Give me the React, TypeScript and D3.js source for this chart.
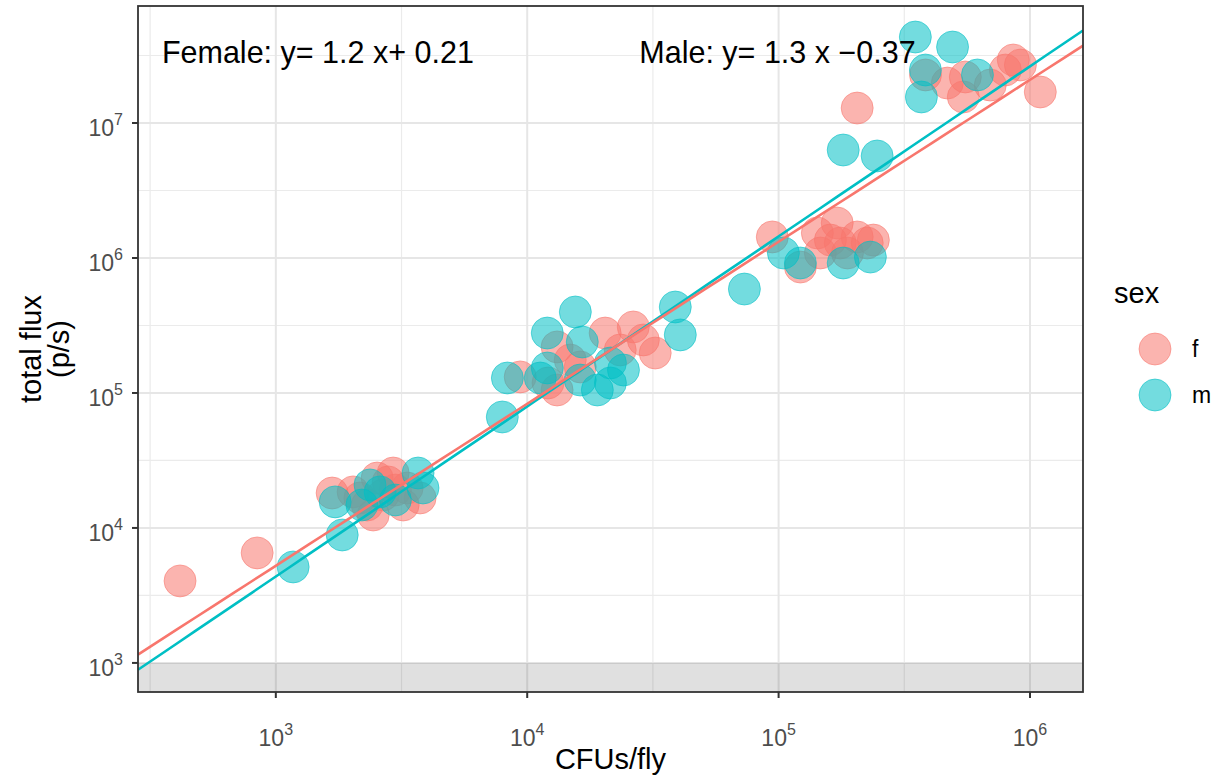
import React from "react";
import * as d3 from "d3";

// ---- data ----
const femaleCFU = [416, 843, 1675, 2030, 2530, 2930, 3330, 3750, 3210, 2440, 2310, 2670, 2990, 2160, 2800, 9380, 13150, 20420, 26420, 32300, 13150, 16250, 23440, 28970, 12100, 14830, 94400, 142600, 171100, 175900, 205400, 225200, 146600, 122100, 187900, 238200, 160700, 205400, 469000, 543000, 553000, 695000, 858000, 798000, 916000, 1099000, 384000];
const femaleFlux = [4050, 6530, 18150, 18500, 23440, 25530, 19770, 16680, 14790, 12470, 14790, 17540, 19100, 16680, 21930, 131500, 219300, 278000, 308300, 197700, 105200, 155900, 208300, 247100, 118600, 175400, 1432000, 1531000, 1816000, 1291000, 1432000, 1291000, 1089000, 857000, 1089000, 1358000, 1358000, 12910000, 19770000, 15590000, 21930000, 19100000, 29300000, 24700000, 26900000, 16980000, 22700000];
const maleCFU = [1172, 1837, 1722, 2370, 2600, 3680, 3850, 2990, 2200, 7960, 8340, 12020, 15540, 16560, 12020, 21430, 24150, 19010, 38820, 40640, 21430, 16250, 73100, 11270, 104500, 180700, 231800, 122100, 349900, 492000, 369800, 383700, 180700, 246600, 618000];
const maleFlux = [5140, 8870, 15600, 20840, 18500, 25530, 19770, 16110, 14790, 66400, 129100, 278000, 398100, 238600, 153200, 166800, 147900, 105200, 433400, 269200, 118600, 124700, 589000, 129100, 1089000, 918000, 1016000, 918000, 43350000, 36560000, 15590000, 24700000, 6310000, 5700000, 22700000];

const sexes = ["f", "m"];
const sexColors = ["#F8766D", "#00BFC4"];
const fitSlopes = [1.2, 1.26];
const fitIntercepts = [0.12, -0.14];
const equationLabels = ["Female: y= 1.2 x+ 0.21", "Male: y= 1.3 x \u22120.37"];
const equationX = [1470, 99000];
const equationY = [3.2e7, 3.2e7];

const xTickExps = [3, 4, 5, 6];
const yTickExps = [3, 4, 5, 6, 7];
const xDomain = [283, 1625000];
const yDomain = [609, 73600000];
const detectionLimit = 1000;

const W = 1224, H = 778;
const L = 138, R = 1083, T = 6, B = 692;

export default function App() {
  const x = d3.scaleLog().domain(xDomain).range([L, R]);
  const y = d3.scaleLog().domain(yDomain).range([B, T]);

  const xMinor = [2.5, 3.5, 4.5, 5.5].map((e) => Math.pow(10, e));
  const yMinor = [3.5, 4.5, 5.5, 6.5, 7.5].map((e) => Math.pow(10, e));

  const series = [
    femaleCFU.map((c, i) => ({ c, f: femaleFlux[i] })),
    maleCFU.map((c, i) => ({ c, f: maleFlux[i] })),
  ];

  const fitPath = (k: number) => {
    const lo = Math.log10(xDomain[0]);
    const hi = Math.log10(xDomain[1]);
    const xs = d3.range(0, 51).map((i) => Math.pow(10, lo + (i / 50) * (hi - lo)));
    const gen = d3
      .line<number>()
      .x((d) => x(d))
      .y((d) => y(Math.pow(10, fitIntercepts[k] + fitSlopes[k] * Math.log10(d))));
    return gen(xs) || "";
  };

  const font = "'Liberation Sans', Arial, Helvetica, sans-serif";

  return (
    <svg width={W} height={H} style={{ position: "absolute", left: 0, top: 0, background: "#fff" }} fontFamily={font}>
      <defs>
        <clipPath id="panel">
          <rect x={L} y={T} width={R - L} height={B - T} />
        </clipPath>
      </defs>
      <rect x={0} y={0} width={W} height={H} fill="#fff" />
      {/* grid */}
      <g>
        {xMinor.map((v, i) => (
          <line key={"xm" + i} x1={x(v)} x2={x(v)} y1={T} y2={B} stroke="#EBEBEB" strokeWidth={1.2} />
        ))}
        {yMinor.map((v, i) => (
          <line key={"ym" + i} x1={L} x2={R} y1={y(v)} y2={y(v)} stroke="#EBEBEB" strokeWidth={1.2} />
        ))}
        {xTickExps.map((e) => (
          <line key={"xg" + e} x1={x(Math.pow(10, e))} x2={x(Math.pow(10, e))} y1={T} y2={B} stroke="#E6E6E6" strokeWidth={2} />
        ))}
        {yTickExps.map((e) => (
          <line key={"yg" + e} x1={L} x2={R} y1={y(Math.pow(10, e))} y2={y(Math.pow(10, e))} stroke="#E6E6E6" strokeWidth={2} />
        ))}
      </g>
      {/* detection limit band */}
      <rect x={L} y={y(detectionLimit)} width={R - L} height={B - y(detectionLimit)} fill="#000" fillOpacity={0.12} />
      {/* points */}
      <g clipPath="url(#panel)">
        {series.map((s, k) =>
          s.map((d, i) => (
            <circle
              key={k + "-" + i}
              cx={x(d.c)}
              cy={y(d.f)}
              r={16}
              fill={sexColors[k]}
              fillOpacity={0.55}
              stroke={sexColors[k]}
              strokeOpacity={0.55}
              strokeWidth={1}
            />
          ))
        )}
        {[1, 0].map((k) => (
          <path key={"fit" + k} d={fitPath(k)} fill="none" stroke={sexColors[k]} strokeWidth={2.6} />
        ))}
      </g>
      {/* equations */}
      {equationLabels.map((t, k) => (
        <text key={"eq" + k} x={x(equationX[k])} y={y(equationY[k])} textAnchor="middle" fontSize={30.5} fill="#000" dominantBaseline="middle">
          {t}
        </text>
      ))}
      {/* panel border */}
      <rect x={L} y={T} width={R - L} height={B - T} fill="none" stroke="#333" strokeWidth={1.8} />
      {/* x axis */}
      {xTickExps.map((e) => {
        const px = x(Math.pow(10, e));
        return (
          <g key={"xt" + e}>
            <line x1={px} x2={px} y1={B} y2={B + 6} stroke="#333" strokeWidth={2} />
            <text x={px} y={746} textAnchor="middle" fontSize={23} fill="#4D4D4D">
              10<tspan dy={-11} fontSize={16}>{e}</tspan>
            </text>
          </g>
        );
      })}
      {/* y axis */}
      {yTickExps.map((e) => {
        const py = y(Math.pow(10, e));
        return (
          <g key={"yt" + e}>
            <line x1={L - 6} x2={L} y1={py} y2={py} stroke="#333" strokeWidth={2} />
            <text x={123} y={py + 13} textAnchor="end" fontSize={23} fill="#4D4D4D">
              10<tspan dy={-11} fontSize={16}>{e}</tspan>
            </text>
          </g>
        );
      })}
      {/* axis titles */}
      <text x={(L + R) / 2} y={769} textAnchor="middle" fontSize={29} fill="#000">
        CFUs/fly
      </text>
      <g transform={`translate(0, ${(T + B) / 2}) rotate(-90)`}>
        <text x={0} y={41} textAnchor="middle" fontSize={29} fill="#000">total flux</text>
        <text x={0} y={69} textAnchor="middle" fontSize={29} fill="#000">(p/s)</text>
      </g>
      {/* legend */}
      <text x={1114} y={303} fontSize={29} fill="#000">sex</text>
      {sexes.map((s, k) => (
        <g key={"lg" + s}>
          <circle cx={1155} cy={349 + k * 46} r={16} fill={sexColors[k]} fillOpacity={0.55} stroke={sexColors[k]} strokeOpacity={0.55} strokeWidth={1} />
          <text x={1192} y={349 + k * 46 + 8} fontSize={23} fill="#000">{s}</text>
        </g>
      ))}
    </svg>
  );
}
